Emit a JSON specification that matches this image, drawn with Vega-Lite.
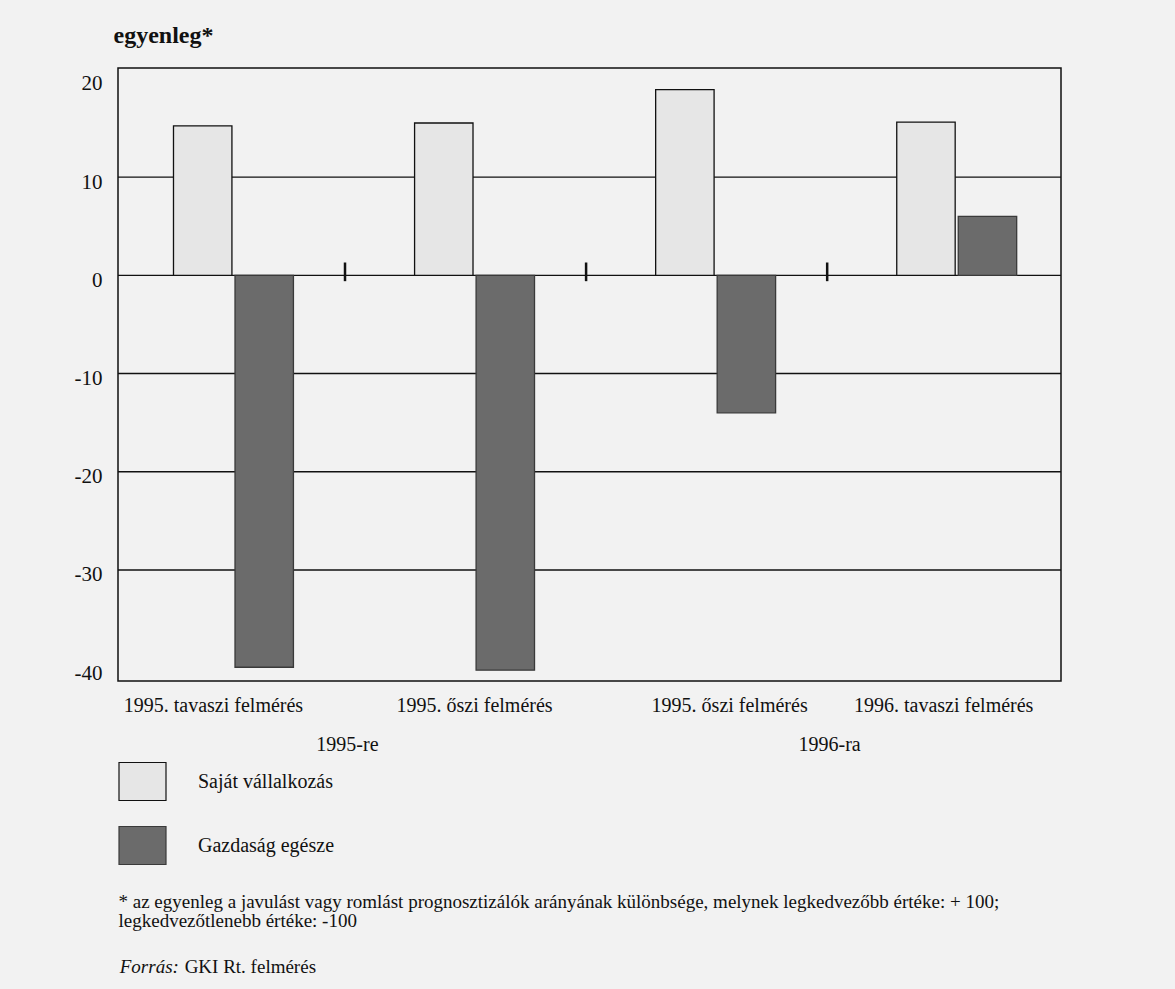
{
  "$schema": "https://vega.github.io/schema/vega-lite/v6.json",
  "width": 943,
  "height": 613,
  "autosize": {"type": "none"},
  "padding": {"left": 118, "top": 68, "right": 114, "bottom": 308},
  "background": "#f2f2f2",
  "config": {
    "font": "Liberation Serif",
    "view": {"stroke": "#111", "strokeWidth": 1.5}
  },
  "datasets": {
    "grid": [{"v": -30}, {"v": -20}, {"v": -10}, {"v": 0}, {"v": 10}],
    "bars": [
      {"g": "1995. tavaszi felmérés|1995-re", "s": "Saját vállalkozás", "v": 15.2},
      {"g": "1995. tavaszi felmérés|1995-re", "s": "Gazdaság egésze", "v": -39.9},
      {"g": "1995. őszi felmérés|1995-re", "s": "Saját vállalkozás", "v": 15.5},
      {"g": "1995. őszi felmérés|1995-re", "s": "Gazdaság egésze", "v": -40.2},
      {"g": "1995. őszi felmérés|1996-ra", "s": "Saját vállalkozás", "v": 18.9},
      {"g": "1995. őszi felmérés|1996-ra", "s": "Gazdaság egésze", "v": -14.0},
      {"g": "1996. tavaszi felmérés|1996-ra", "s": "Saját vállalkozás", "v": 15.6},
      {"g": "1996. tavaszi felmérés|1996-ra", "s": "Gazdaság egésze", "v": 6.0}
    ],
    "sep": [
      {"g": "1995. tavaszi felmérés|1995-re"},
      {"g": "1995. őszi felmérés|1995-re"},
      {"g": "1995. őszi felmérés|1996-ra"}
    ],
    "period": [
      {"g": "1995. tavaszi felmérés|1995-re", "t": "1995-re"},
      {"g": "1995. őszi felmérés|1996-ra", "t": "1996-ra"}
    ],
    "src1": [{"g": "1995. tavaszi felmérés|1995-re", "t": "Forrás:"}],
    "src2": [{"g": "1995. tavaszi felmérés|1995-re", "t": "GKI Rt. felmérés"}]
  },
  "layer": [
    {
      "data": {"name": "grid"},
      "mark": {"type": "rule", "color": "#111", "strokeWidth": 1.3},
      "encoding": {
        "y": {
          "field": "v",
          "type": "quantitative",
          "scale": {"domain": [-41.3, 21.1], "nice": false, "zero": false},
          "axis": {
            "values": [-40, -30, -20, -10, 0, 10, 20],
            "labelExpr": "'' + datum.value",
            "grid": false,
            "ticks": false,
            "domain": false,
            "labelPadding": 16,
            "labelFontSize": 21,
            "labelColor": "#111",
            "labelOffset": 5,
            "labelBaseline": "middle",
            "title": "egyenleg*",
            "titleAngle": 0,
            "titleAlign": "left",
            "titleBaseline": "alphabetic",
            "titleX": -5,
            "titleY": -25.6,
            "titleFontSize": 24,
            "titleFontWeight": "bold",
            "titleColor": "#111"
          }
        }
      }
    },
    {
      "data": {"name": "bars"},
      "mark": {"type": "bar", "strokeWidth": 1.3},
      "encoding": {
        "x": {
          "field": "g",
          "type": "nominal",
          "scale": {
            "domain": ["1995. tavaszi felmérés|1995-re", "1995. őszi felmérés|1995-re", "1995. őszi felmérés|1996-ra", "1996. tavaszi felmérés|1996-ra"],
            "paddingInner": 0.5025,
            "paddingOuter": 0.207,
            "align": 0.556
          },
          "axis": {
            "labelExpr": "split(datum.label, '|')[0]",
            "labelAngle": 0,
            "labelFontSize": 20,
            "labelColor": "#111",
            "labelPadding": 14,
            "labelLimit": 400,
            "labelOffset": {
              "condition": [
                {"test": "datum.value === '1995. tavaszi felmérés|1995-re'", "value": -20},
                {"test": "datum.value === '1995. őszi felmérés|1996-ra'", "value": 14},
                {"test": "datum.value === '1996. tavaszi felmérés|1996-ra'", "value": -13}
              ],
              "value": 0
            },
            "ticks": false,
            "domain": false,
            "title": ["* az egyenleg a javulást vagy romlást prognosztizálók arányának különbsége, melynek legkedvezőbb értéke: + 100;", "legkedvezőtlenebb értéke: -100"],
            "titleX": 0,
            "titleY": 226,
            "titleAlign": "left",
            "titleAnchor": "start",
            "titleBaseline": "alphabetic",
            "titleFontSize": 19,
            "titleFontWeight": "normal",
            "titleLineHeight": 19.5,
            "titleColor": "#111",
            "titleLimit": 2000
          }
        },
        "xOffset": {
          "field": "s",
          "type": "nominal",
          "scale": {"domain": ["Saját vállalkozás", "Gazdaság egésze"], "paddingInner": 0.05, "paddingOuter": 0}
        },
        "y": {"field": "v", "type": "quantitative"},
        "fill": {
          "field": "s",
          "type": "nominal",
          "scale": {"domain": ["Saját vállalkozás", "Gazdaság egésze"], "range": ["#e6e6e6", "#6b6b6b"]},
          "legend": {
            "title": null,
            "orient": "none",
            "legendX": 0,
            "legendY": 689,
            "direction": "vertical",
            "symbolType": "M-1,-0.8085H1V0.8085H-1Z",
            "symbolSize": 2209,
            "symbolStrokeWidth": 1.2,
            "symbolOpacity": 1,
            "rowPadding": 18,
            "labelOffset": 31,
            "labelFontSize": 20,
            "labelColor": "#111",
            "labelLimit": 400,
            "padding": 0
          }
        },
        "stroke": {
          "field": "s",
          "type": "nominal",
          "scale": {"domain": ["Saját vállalkozás", "Gazdaság egésze"], "range": ["#111111", "#3a3a3a"]},
          "legend": {
            "title": null,
            "orient": "none",
            "legendX": 0,
            "legendY": 689,
            "direction": "vertical",
            "symbolType": "M-1,-0.8085H1V0.8085H-1Z",
            "symbolSize": 2209,
            "symbolStrokeWidth": 1.2,
            "symbolOpacity": 1,
            "rowPadding": 18,
            "labelOffset": 31,
            "labelFontSize": 20,
            "labelColor": "#111",
            "labelLimit": 400,
            "padding": 0
          }
        }
      }
    },
    {
      "data": {"name": "sep"},
      "mark": {"type": "rule", "color": "#111", "strokeWidth": 2.5},
      "encoding": {
        "x": {"field": "g", "type": "nominal", "bandPosition": 1.43},
        "y": {"datum": 1.3},
        "y2": {"datum": -0.6}
      }
    },
    {
      "data": {"name": "period"},
      "mark": {"type": "text", "fontSize": 20, "color": "#111", "baseline": "middle", "align": "center"},
      "encoding": {
        "x": {"field": "g", "type": "nominal", "bandPosition": 1.45},
        "y": {"datum": -47.8},
        "text": {"field": "t"}
      }
    },
    {
      "data": {"name": "src1"},
      "mark": {"type": "text", "fontSize": 19, "fontStyle": "italic", "color": "#111", "baseline": "middle", "align": "left"},
      "encoding": {
        "x": {"field": "g", "type": "nominal", "bandPosition": -0.448},
        "y": {"datum": -70.4},
        "text": {"field": "t"}
      }
    },
    {
      "data": {"name": "src2"},
      "mark": {"type": "text", "fontSize": 19, "color": "#111", "baseline": "middle", "align": "left"},
      "encoding": {
        "x": {"field": "g", "type": "nominal", "bandPosition": 0.093},
        "y": {"datum": -70.4},
        "text": {"field": "t"}
      }
    }
  ]
}
